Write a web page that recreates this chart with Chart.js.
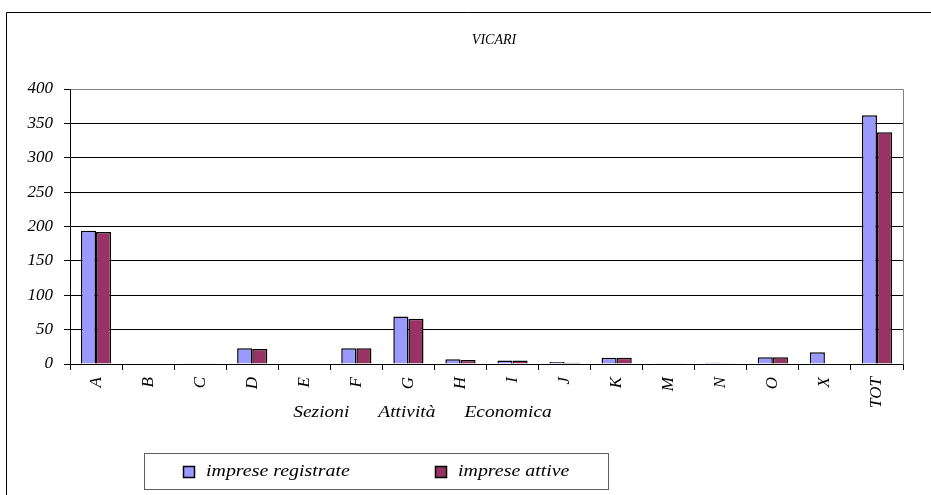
<!DOCTYPE html>
<html>
<head>
<meta charset="utf-8">
<script src="https://cdn.jsdelivr.net/npm/chart.js@4/dist/chart.umd.min.js"></script>
<style>
html,body{margin:0;padding:0;background:#fff;}
#wrap{width:931px;height:495px;position:relative;}
</style>
</head>
<body>
<div id="wrap"><canvas id="c" width="931" height="495"></canvas></div>
<script>
const chartTitle = "VICARI";
const xAxisTitle = "Sezioni      Attività      Economica";
const categories = ["A","B","C","D","E","F","G","H","I","J","K","M","N","O","X","TOT"];
const seriesNames = ["imprese registrate","imprese attive"];
const registrate = [194,0,1,23,0,23,69,7,5,3,9,1,2,10,17,362];
const attive     = [192,0,1,22,0,23,66,6,5,2,9,1,1,10,0,337];
const yTicks = [0,50,100,150,200,250,300,350,400];
const colors = ["#9999FF","#993366"];

const FONT = "'Liberation Serif','Times New Roman',serif";

function stretchText(ctx, text, x, y, sx, align){
  ctx.save();
  ctx.translate(x, y);
  ctx.scale(sx, 1);
  ctx.textAlign = align;
  ctx.fillText(text, 0, 0);
  ctx.restore();
}

const decor = {
  id:'decor',
  beforeDraw(chart){
    const ctx = chart.ctx;
    ctx.save();
    ctx.fillStyle='#fff';
    ctx.fillRect(0,0,chart.width,chart.height);
    ctx.strokeStyle='#000';
    ctx.lineWidth=1;
    ctx.beginPath();
    ctx.moveTo(6.5,chart.height);
    ctx.lineTo(6.5,12.5);
    ctx.lineTo(chart.width,12.5);
    ctx.stroke();
    ctx.restore();
  },
  afterDraw(chart){
    const ctx = chart.ctx;
    const a = chart.chartArea;
    ctx.save();
    ctx.strokeStyle='#808080';
    ctx.lineWidth=1;
    ctx.beginPath();
    ctx.moveTo(Math.round(a.left)+0.5, Math.round(a.top)+0.5);
    ctx.lineTo(Math.round(a.right)+0.5, Math.round(a.top)+0.5);
    ctx.lineTo(Math.round(a.right)+0.5, Math.round(a.bottom)+0.5);
    ctx.stroke();
    ctx.fillStyle='#000';
    ctx.textBaseline='middle';
    ctx.font = "italic 14px " + FONT;
    stretchText(ctx, chartTitle, 494, 40, 1.0, 'center');
    ctx.font = "italic 17px " + FONT;
    stretchText(ctx, xAxisTitle, 422.5, 413, 1.14, 'center');
    // legend
    ctx.strokeStyle='#606060';
    ctx.lineWidth=1;
    ctx.strokeRect(144.5,453.5,464,36);
    const xs = [183, 435];
    chart.data.datasets.forEach((ds,i)=>{
      ctx.fillStyle = ds.backgroundColor;
      ctx.fillRect(xs[i]+0.5, 466.5, 11, 11);
      ctx.strokeStyle='#000';
      ctx.lineWidth=1.5;
      ctx.strokeRect(xs[i]+0.5, 466.5, 11, 11);
      ctx.fillStyle='#000';
      ctx.font = "italic 17px " + FONT;
      stretchText(ctx, ds.label, xs[i]+23, 472, 1.17, 'left');
    });
    ctx.restore();
  }
};

new Chart(document.getElementById('c'), {
  type:'bar',
  data:{
    labels: categories,
    datasets:[
      {label: seriesNames[0], data: registrate, backgroundColor: colors[0], borderColor:'#000', borderWidth:1.5},
      {label: seriesNames[1], data: attive, backgroundColor: colors[1], borderColor:'#000', borderWidth:1.5}
    ]
  },
  options:{
    responsive:false,
    animation:false,
    layout:{padding:{left:10, right:28, top:89, bottom:0}},
    plugins:{legend:{display:false}, title:{display:false}, tooltip:{enabled:false}},
    datasets:{bar:{categoryPercentage:0.58, barPercentage:1.0}},
    scales:{
      x:{
        afterFit(s){ s.height = 131; },
        grid:{drawOnChartArea:false, drawTicks:true, tickLength:6, color:'#000', offset:true},
        border:{color:'#000', width:1},
        ticks:{minRotation:90, maxRotation:90, padding:7, color:'#000', font:{family:FONT, style:'italic', size:17}}
      },
      y:{
        min:0, max:400,
        afterFit(s){ s.width = 60; },
        afterBuildTicks(s){ s.ticks = yTicks.map(v=>({value:v})); },
        grid:{color:(c)=> (c.tick && c.tick.value===400) ? '#808080' : '#000', lineWidth:1, drawTicks:true, tickLength:6, tickColor:'#000'},
        border:{color:'#000', width:1},
        ticks:{padding:11, color:'#000', font:{family:FONT, style:'italic', size:17}}
      }
    }
  },
  plugins:[decor]
});
</script>
</body>
</html>
